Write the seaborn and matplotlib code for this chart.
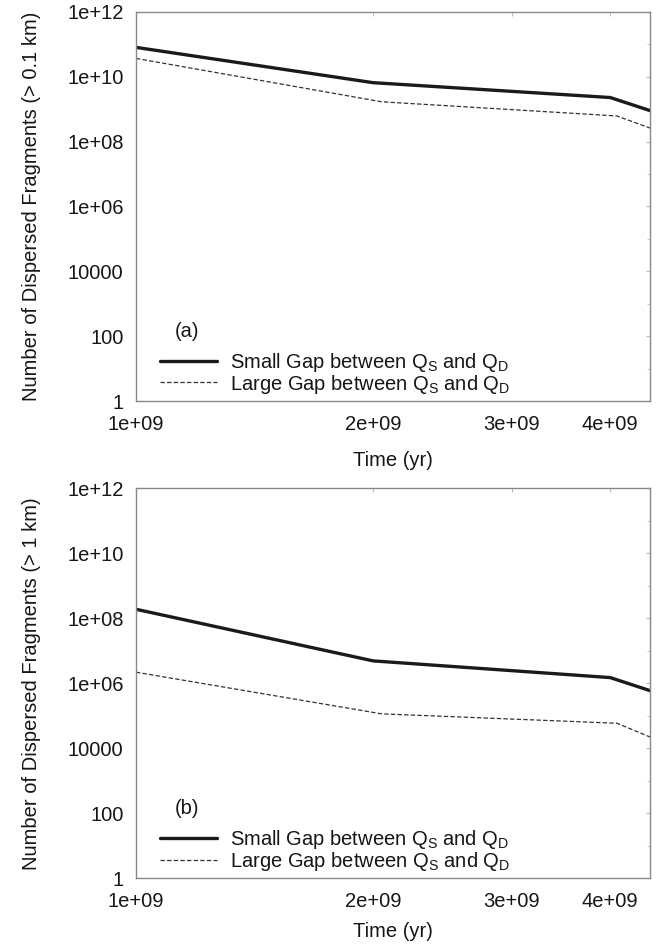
import numpy as np
import pandas as pd
import seaborn as sns
import matplotlib
from matplotlib import pyplot as plt
from matplotlib.ticker import LogLocator, FixedLocator, NullFormatter, FixedFormatter

matplotlib.use('Agg')

# time axis (yr)
time_small = [1e9, 2e9, 4e9, 4.5e9]
time_large = [1e9, 2.05e9, 4.08e9, 4.5e9]

# panel (a): fragments > 0.1 km
frag01_small = [8.1e10, 6.6e9, 2.3e9, 9.0e8]
frag01_large = [3.7e10, 1.7e9, 6.2e8, 2.6e8]

# panel (b): fragments > 1 km
frag1_small = [1.9e8, 4.9e6, 1.5e6, 5.9e5]
frag1_large = [2.2e6, 1.15e5, 5.9e4, 2.2e4]

x_ticks = [1e9, 2e9, 3e9, 4e9]
x_labels = ["1e+09", "2e+09", "3e+09", "4e+09"]
y_ticks = [1, 1e2, 1e4, 1e6, 1e8, 1e10, 1e12]
y_labels = ["1", "100", "10000", "1e+06", "1e+08", "1e+10", "1e+12"]

sns.set_style("white")
plt.rcParams['font.family'] = ['Liberation Sans', 'DejaVu Sans']
plt.rcParams['mathtext.fontset'] = 'custom'
plt.rcParams['mathtext.rm'] = 'Liberation Sans'
plt.rcParams['mathtext.it'] = 'Liberation Sans'

FS = 14.5
TXT = "#161616"

fig = plt.figure(figsize=(6.69, 9.44), dpi=100)
ax_a = fig.add_axes([0.2033, 0.5752, 0.769, 0.4121])
ax_b = fig.add_axes([0.2033, 0.0696, 0.769, 0.4131])

lab_small = r"Small Gap between $\mathregular{Q_S}$ and $\mathregular{Q_D}$"
lab_large = r"Large Gap between $\mathregular{Q_S}$ and $\mathregular{Q_D}$"

panels = [
    (ax_a, frag01_small, frag01_large, "(a)", "Number of Dispersed Fragments (> 0.1 km)", 12),
    (ax_b, frag1_small, frag1_large, "(b)", "Number of Dispersed Fragments (> 1 km)", 8),
]

for ax, ys, yl, tag, ylabel, xpad in panels:
    sns.lineplot(x=time_small, y=ys, ax=ax, color="#1a1a1a", linewidth=2.4,
                 label=lab_small, estimator=None, sort=False)
    sns.lineplot(x=time_large, y=yl, ax=ax, color="#333333", linewidth=0.9,
                 linestyle=(0, (3.5, 1.8)), label=lab_large, estimator=None, sort=False)
    ax.set_xscale("log")
    ax.set_yscale("log")
    ax.set_xlim(1e9, 4.5e9)
    ax.set_ylim(1, 1e12)

    ax.xaxis.set_major_locator(FixedLocator(x_ticks))
    ax.xaxis.set_major_formatter(FixedFormatter(x_labels))
    ax.xaxis.set_minor_locator(FixedLocator([]))
    ax.xaxis.set_minor_formatter(NullFormatter())
    ax.yaxis.set_major_locator(FixedLocator(y_ticks))
    ax.yaxis.set_major_formatter(FixedFormatter(y_labels))
    ax.yaxis.set_minor_locator(LogLocator(base=10, numticks=20))
    ax.yaxis.set_minor_formatter(NullFormatter())

    ax.tick_params(which="both", direction="in", top=True, right=True,
                   color="#bbbbbb", labelsize=FS, labelcolor=TXT)
    ax.tick_params(axis="y", which="major", length=3, pad=9)
    ax.tick_params(axis="y", which="minor", length=2)
    ax.tick_params(axis="x", which="major", length=3, pad=10)

    for sp in ax.spines.values():
        sp.set_color("#888888")
        sp.set_linewidth(1.0)

    ax.set_xlabel("Time (yr)", fontsize=FS, color=TXT, labelpad=xpad)
    ax.set_ylabel(ylabel, fontsize=FS, color=TXT, labelpad=19)
    ax.text(0.099, 0.178, tag, transform=ax.transAxes, fontsize=FS,
            color=TXT, ha="center", va="center")

    leg = ax.legend(loc="lower left", bbox_to_anchor=(0.024, -0.017), frameon=False,
                    fontsize=FS, handlelength=2.8, handletextpad=0.65,
                    labelspacing=-0.08, borderaxespad=0.2)
    for t in leg.get_texts():
        t.set_color(TXT)

fig.savefig("out.png", dpi=100)
